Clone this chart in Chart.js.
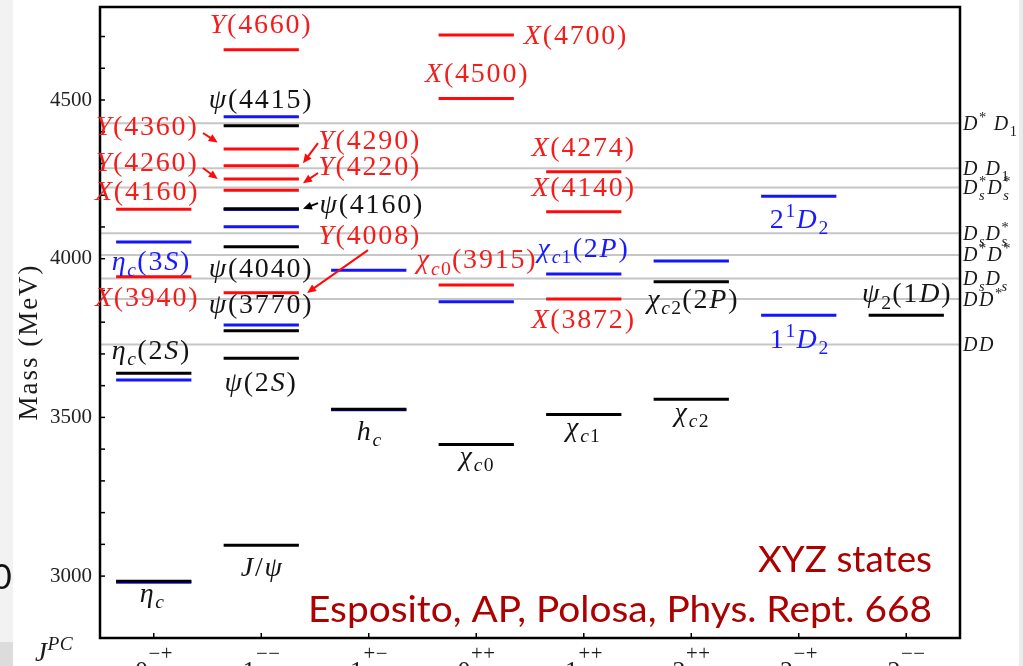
<!DOCTYPE html>
<html><head><meta charset="utf-8">
<script src="https://cdn.jsdelivr.net/npm/chart.js"></script>
<style>html,body{margin:0;padding:0;background:#fff;overflow:hidden}#wrap{position:relative;width:1023px;height:666px}</style>
</head><body><div id="wrap"><canvas id="c" width="1023" height="666"></canvas></div>
<script>
// ---------------- data ----------------
const categories = ['0^{−+}','1^{−−}','1^{+−}','0^{++}','1^{++}','2^{++}','2^{−+}','2^{−−}'];
const yTickValues = [3000,3100,3200,3300,3400,3500,3600,3700,3800,3900,4000,4100,4200,4300,4400,4500,4600,4700];
const yTickLabels = {3000:'3000',3500:'3500',4000:'4000',4500:'4500'};
// [category index, mass in MeV]
const conventionalLevels = [[0,2984],[0,3639],[1,3097],[1,3686],[1,3773],[1,4038],[1,4157],[1,4419],[2,3526],[3,3415],[4,3509],[5,3557],[5,3927],[7,3822]];
const predictedLevels = [[0,2981],[0,3618],[0,4053],[1,3791],[1,4101],[1,4155],[1,4447],[2,3524],[2,3964],[3,3864],[4,3952],[5,3993],[6,3822],[6,4197]];
const exoticLevels = [[0,3943],[0,4156],[1,3893],[1,4216],[1,4251],[1,4293],[1,4346],[1,4658],[3,3917],[3,4505],[3,4705],[4,3873],[4,4148],[4,4274]];
const thresholdNames = ['~D~^{*} ~D~_{1}','~D D~_{1}','~D~_{~s~}^{*}~D~_{~s~}^{*}','~D~_{~s~}~D~_{~s~}^{*}','~D~^{*}~D~^{*}','~D~_{~s~}~D~_{~s~}','~DD~^{*}','~DD~'];
const thresholdMasses = [4427,4285,4224,4080,4012,3938,3873,3730];
// [text, kind, category position, mass]
const levelLabels = [
  ['~Y~(4360)','x',-0.07,4415],['~Y~(4260)','x',-0.07,4301],['~X~(4160)','x',-0.07,4210],
  ['~η~_{~c~}(3~S~)','p',-0.03,3989],['~X~(3940)','x',-0.07,3876],['~η~_{~c~}(2~S~)','c',-0.03,3709],['~η~_{~c~}','c',-0.02,2943],
  ['~Y~(4660)','x',0.99,4736],['~ψ~(4415)','c',0.99,4500],['~ψ~(4040)','c',0.99,3967],['~ψ~(3770)','c',0.99,3854],
  ['~ψ~(2~S~)','c',0.99,3608],['~J~/~ψ~','c',1.0,3025],
  ['~Y~(4290)','x',2.0,4371],['~Y~(4220)','x',2.0,4289],['~ψ~(4160)','c',2.02,4169],['~Y~(4008)','x',2.0,4071],['~h~_{~c~}','c',2.0,3454],
  ['~X~(4700)','x',3.92,4699],['~X~(4500)','x',3.0,4582],['~χ~_{~c~0}(3915)','x',3.0,3993],['~χ~_{~c~0}','c',3.0,3375],
  ['~X~(4274)','x',3.99,4346],['~X~(4140)','x',3.99,4220],['~χ~_{~c~1}(2~P~)','p',3.99,4030],['~X~(3872)','x',3.99,3807],['~χ~_{~c~1}','c',3.99,3466],
  ['~χ~_{~c~2}(2~P~)','c',5.01,3870],['~χ~_{~c~2}','c',5.0,3514],
  ['2^{1}~D~_{2}','p',6.0,4122],['1^{1}~D~_{2}','p',6.0,3744],
  ['~ψ~_{2}(1~D~)','c',7.0,3886]
];
// [kind, from category pos, from mass, to category pos, to mass]
const arrows = [
  ['x',0.458,4396,0.595,4366],['x',0.458,4286,0.595,4251],
  ['x',1.528,4364,1.388,4301],['x',1.528,4270,1.388,4238],
  ['c',1.528,4175,1.388,4157],['x',1.993,4027,1.426,3892]
];
const noteLines = ['XYZ states','Esposito, AP, Polosa, Phys. Rept. 668'];

// ---------------- styles ----------------
const COL = {c:'#000000', p:'#1414ff', x:'#ff0a0a'};
const TXT = {c:'#141414', p:'#1a1aff', x:'#f51c1c'};
const SERIF = '"Liberation Serif","DejaVu Serif",serif';
const HALF = 0.35;

function segments(levels){
  const pts=[];
  levels.forEach(([c,m])=>{pts.push({x:c-HALF,y:m},{x:c+HALF,y:m},{x:c,y:null});});
  return pts;
}

// rich text: ~ toggles italic, _{..} subscript, ^{..} superscript
function parseRich(s){
  const items=[]; let it=false, group=null;
  for(let i=0;i<s.length;i++){
    const ch=s[i];
    if(ch==='~'){it=!it;continue;}
    if((ch==='_'||ch==='^')&&s[i+1]==='{'){group={mode:ch==='_'?-1:1,runs:[]};items.push(group);i++;continue;}
    if(ch==='}'&&group){group=null;continue;}
    if(group) group.runs.push({t:ch,it}); else items.push({mode:0,runs:[{t:ch,it}]});
  }
  return items;
}
function drawRich(ctx,s,x,y,opt){
  const o=Object.assign({size:28,sub:0.7,subDrop:0.22,supRaise:0.38,ls:1.5,align:'center',color:'#000'},opt);
  const items=parseRich(s); let X=0, prev=null; const gl=[];
  for(const g of items){
    const fs=g.mode===0?o.size:o.size*o.sub;
    const dy=g.mode===0?0:(g.mode<0?o.size*o.subDrop:-o.size*o.supRaise);
    let sx=X;
    if(g.mode!==0&&prev&&prev.mode!==0&&prev.mode!==g.mode) sx=prev.sx;
    let cx=sx;
    for(const r of g.runs){
      const f=(r.it?'italic ':'')+fs.toFixed(1)+'px '+SERIF;
      ctx.font=f; const w=ctx.measureText(r.t).width;
      gl.push({t:r.t,f,x:cx,dy}); cx+=w+o.ls*(fs/o.size);
    }
    g.sx=sx; X=Math.max(X,cx); prev=g;
  }
  const W=X-o.ls;
  const x0=o.align==='center'?x-W/2:(o.align==='right'?x-W:x);
  ctx.save(); ctx.fillStyle=o.color; ctx.textBaseline='alphabetic'; ctx.textAlign='left';
  for(const g of gl){ctx.font=g.f;ctx.fillText(g.t,x0+g.x,y+g.dy);}
  ctx.restore();
}
function arrow(ctx,x1,y1,x2,y2,color){
  const a=Math.atan2(y2-y1,x2-x1),L=9,W=4,c=Math.cos(a),s=Math.sin(a);
  ctx.save(); ctx.strokeStyle=color; ctx.fillStyle=color; ctx.lineWidth=2;
  ctx.beginPath(); ctx.moveTo(x1,y1); ctx.lineTo(x2-L*0.7*c,y2-L*0.7*s); ctx.stroke();
  ctx.beginPath(); ctx.moveTo(x2,y2);
  ctx.lineTo(x2-L*c+W*s,y2-L*s-W*c); ctx.lineTo(x2-L*c-W*s,y2-L*s+W*c); ctx.closePath(); ctx.fill();
  ctx.restore();
}
function fitText(ctx,t,right,base,width){
  const w=ctx.measureText(t).width, k=width/w;
  ctx.save(); ctx.translate(right-width,base); ctx.scale(k,1); ctx.textAlign='left'; ctx.fillText(t,0,0); ctx.restore();
}

const decor = {
  id:'decor',
  beforeDraw(chart){
    const ctx=chart.ctx; ctx.save();
    ctx.fillStyle='#fff'; ctx.fillRect(0,0,chart.width,chart.height);
    ctx.fillStyle='#f2f2f2'; ctx.fillRect(0,0,13,chart.height);
    ctx.fillStyle='#dcdcdc'; ctx.fillRect(0,642,13,24);
    ctx.fillStyle='#ececec'; ctx.fillRect(1019,0,4,chart.height);
    ctx.fillStyle='#111'; ctx.font='34px Lato'; ctx.textBaseline='alphabetic';
    ctx.fillText('0',-8,589);
    ctx.restore();
  },
  afterDatasetsDraw(chart){
    const ctx=chart.ctx, a=chart.chartArea, xs=chart.scales.x, ys=chart.scales.y;
    ctx.save();
    ctx.strokeStyle='#000'; ctx.lineWidth=2.5;
    ctx.strokeRect(a.left,a.top,a.right-a.left,a.bottom-a.top);
    ctx.lineWidth=1.5;
    yTickValues.forEach(v=>{const y=ys.getPixelForValue(v);ctx.beginPath();ctx.moveTo(a.left,y);ctx.lineTo(a.left+5,y);ctx.stroke();});
    categories.forEach((c,i)=>{const x=xs.getPixelForValue(i);ctx.beginPath();ctx.moveTo(x,a.bottom);ctx.lineTo(x,a.bottom-5);ctx.stroke();});
    ctx.restore();
    categories.forEach((c,i)=>drawRich(ctx,c,xs.getPixelForValue(i),679,{size:26,sub:0.8,supRaise:0.73,ls:0.5,color:'#1a1a1a'}));
    drawRich(ctx,'~J~^{~PC~}',35,661,{size:27,sub:0.72,supRaise:0.42,ls:0.5,align:'left',color:'#1a1a1a'});
    ctx.save(); ctx.translate(37,343); ctx.rotate(-Math.PI/2);
    drawRich(ctx,'Mass (MeV)',0,0,{size:27,ls:2,color:'#1a1a1a'});
    ctx.restore();
    thresholdNames.forEach((n,i)=>drawRich(ctx,n,a.right+3,ys.getPixelForValue(thresholdMasses[i])+6.5,{size:20,sub:0.72,subDrop:0.3,supRaise:0.4,ls:1.5,align:'left',color:'#1a1a1a'}));
    arrows.forEach(([k,x1,y1,x2,y2])=>arrow(ctx,xs.getPixelForValue(x1),ys.getPixelForValue(y1),xs.getPixelForValue(x2),ys.getPixelForValue(y2),COL[k]));
    levelLabels.forEach(([t,k,x,m])=>drawRich(ctx,t,xs.getPixelForValue(x),ys.getPixelForValue(m)+0.27*28,{size:28,ls:1.8,color:TXT[k]}));
    ctx.save(); ctx.fillStyle='#ad0000'; ctx.font='36px Lato'; ctx.textBaseline='alphabetic';
    fitText(ctx,noteLines[0],932,572,174); fitText(ctx,noteLines[1],932,622,624);
    ctx.restore();
  }
};

const lineDs = (label,levels,color,order)=>({label,data:segments(levels),borderColor:color,borderWidth:3,pointRadius:0,spanGaps:false,tension:0,borderCapStyle:'butt',order});

new Chart(document.getElementById('c'),{
  type:'line',
  data:{datasets:[
    {label:'thresholds',data:thresholdMasses.flatMap(m=>[{x:-0.5,y:m},{x:7.5,y:m},{x:7.5,y:null}]),borderColor:'#c6c6c6',borderWidth:2,pointRadius:0,spanGaps:false,order:10},
    lineDs('predicted',predictedLevels,COL.p,3),
    lineDs('exotic',exoticLevels,COL.x,2),
    lineDs('conventional',conventionalLevels,COL.c,1)
  ]},
  options:{
    responsive:false,animation:false,
    layout:{padding:{left:0,right:63,top:7,bottom:0}},
    plugins:{legend:{display:false},tooltip:{enabled:false}},
    scales:{
      x:{type:'linear',min:-0.5,max:7.5,grid:{display:false,drawTicks:false},border:{display:false},ticks:{display:false},
         afterFit(s){s.height=28;s.paddingLeft=0;s.paddingRight=0;}},
      y:{type:'linear',min:2805,max:4793,grid:{display:false,drawTicks:false},border:{display:false},
         afterBuildTicks(s){s.ticks=yTickValues.map(v=>({value:v}));},
         ticks:{autoSkip:false,padding:8,color:'#222',font:{family:SERIF,size:21},callback:v=>yTickLabels[v]||''},
         afterFit(s){s.width=100;s.paddingTop=0;s.paddingBottom=0;}}
    }
  },
  plugins:[decor]
});
</script></body></html>
